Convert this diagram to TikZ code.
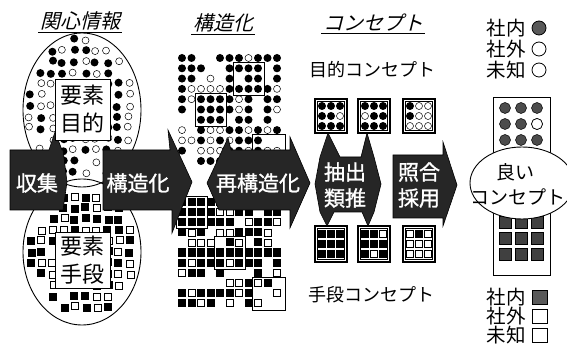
\documentclass[tikz,border=0pt]{standalone}
\usepackage{fontspec}
\newfontfamily\jp{Noto Sans CJK JP}
\newfontfamily\jpb[FakeBold=1.2]{Noto Sans CJK JP}
\newfontfamily\jpit[FakeSlant=0.25]{Noto Sans CJK JP}
\tikzset{
 arrowshape/.style={fill=black!85, draw=black, line width=0.6pt},
 arrowtext/.style={text=white, font=\jpb\fontsize{21}{26}\selectfont, align=center, inner sep=0pt},
 titletext/.style={font=\jpit\fontsize{20}{20}\selectfont, inner sep=1.5pt},
 lbl/.style={font=\jp\fontsize{18}{20}\selectfont, inner sep=0pt},
 legtext/.style={font=\jp\fontsize{19.5}{20}\selectfont, inner sep=0pt},
 elembox/.style={draw, fill=white, line width=0.8pt, align=center, inner sep=0pt, font=\jp\fontsize{22}{28}\selectfont},
 doto/.style={draw=black, fill=white, line width=0.5pt},
 gbox/.style={draw, line width=0.8pt},
}
\newcommand\circcell[3]{\ifcase#3\relax\or\fill (#1,#2) circle (4);\or\draw[doto] (#1,#2) circle (3.5);\fi}
\newcommand\sqcell[3]{\ifcase#3\relax\or\fill (#1-4,#2-4) rectangle (#1+4,#2+4);\or\draw[doto] (#1-3.5,#2-3.5) rectangle (#1+3.5,#2+3.5);\fi}
\newcommand\cellgrid[6]{%
  \foreach \c [count=\k from 0] in {#6}{%
    \pgfmathsetmacro{\px}{#2+#4*mod(\k,3)}%
    \pgfmathsetmacro{\py}{#3+#5*floor(\k/3)}%
    #1{\px}{\py}{\c}}}
\newcommand\cframe[3]{%
  \draw[line width=1.1pt, fill=white] (#1,#2) rectangle ++(32,#3);
  \draw[line width=0.5pt] (#1+2.5,#2+2.5) rectangle ++(27,#3-5);}
\begin{document}
\begin{tikzpicture}[x=1pt,y=-1pt]
\useasboundingbox (0,0) rectangle (567,347);
\fill[white] (0,0) rectangle (567,347);
\pgfmathsetseed{4242}
% ---------- left ellipses ----------
\fill[white] (82,252) ellipse [x radius=59, y radius=73];
\fill[white] (82,110) ellipse [x radius=59, y radius=77];
\foreach \x in {30,41,...,140}{\foreach \y in {40,51,...,190}{%
  \pgfmathsetmacro{\d}{((\x-82)/54)^2+((\y-110)/72)^2}%
  \pgfmathrandominteger{\r}{0}{9}%
  \pgfmathsetmacro{\px}{\x+3*rnd-1.5}\pgfmathsetmacro{\py}{\y+3*rnd-1.5}%
  \ifdim\d pt<1pt \ifnum\r<5 \circcell{\px}{\py}{1}\else\ifnum\r<9 \circcell{\px}{\py}{2}\fi\fi\fi}}
\foreach \x in {31,42,...,140}{\foreach \y in {186,197,...,325}{%
  \pgfmathsetmacro{\d}{((\x-82)/52)^2+((\y-252)/66)^2}%
  \pgfmathrandominteger{\r}{0}{9}%
  \pgfmathsetmacro{\px}{\x+2*rnd-1}\pgfmathsetmacro{\py}{\y+2*rnd-1}%
  \ifdim\d pt<1pt \ifnum\r<5 \sqcell{\px}{\py}{1}\else\ifnum\r<9 \sqcell{\px}{\py}{2}\fi\fi\fi}}
\draw[line width=0.9pt] (82,110) ellipse [x radius=59, y radius=77];
\draw[line width=0.9pt] (82,252) ellipse [x radius=59, y radius=73];
% ---------- structure matrices ----------
\foreach \i in {0,...,10}{\foreach \j in {0,...,10}{%
  \pgfmathrandominteger{\r}{0}{9}%
  \pgfmathsetmacro{\px}{182+9.5*\i}\pgfmathsetmacro{\py}{58+10.3*\j}%
  \ifnum\r<6 \circcell{\px}{\py}{1}\else\ifnum\r<8 \circcell{\px}{\py}{2}\fi\fi}}
\foreach \i in {0,...,10}{\foreach \j in {0,...,10}{%
  \pgfmathrandominteger{\r}{0}{9}%
  \pgfmathsetmacro{\px}{182+9.5*\i}\pgfmathsetmacro{\py}{202+10.1*\j}%
  \ifnum\r<6 \sqcell{\px}{\py}{1}\else\ifnum\r<8 \sqcell{\px}{\py}{2}\fi\fi}}
% boxes in top matrix
\draw[gbox, fill=white] (195,93) rectangle (226,126);
\cellgrid{\circcell}{201}{99.2}{9.5}{10.3}{1,1,1,1,1,1,1,1,1}
\draw[gbox, fill=white] (233,62) rectangle (264,95);
\cellgrid{\circcell}{239}{68.3}{9.5}{10.3}{1,1,1,0,1,1,1,1,1}
\draw[gbox, fill=white] (252,134) rectangle (285,167);
\cellgrid{\circcell}{258}{140.4}{9.5}{10.3}{1,0,0,1,2,2,0,0,0}
% boxes in bottom matrix
\draw[gbox, fill=white] (176,196) rectangle (207,228);
\cellgrid{\sqcell}{182}{202}{9.5}{10.1}{1,1,1,1,1,1,1,1,1}
\draw[gbox, fill=white] (214,236) rectangle (245,269);
\cellgrid{\sqcell}{220}{242.4}{9.5}{10.1}{0,1,2,1,1,1,1,2,1}
\draw[gbox, fill=white] (252,277) rectangle (285,310);
\cellgrid{\sqcell}{258}{282.8}{9.5}{10.1}{2,1,0,0,0,2,2,0,0}
% ---------- concept grids ----------
\cframe{315}{99}{34}
\cellgrid{\circcell}{322}{106}{9}{10}{1,1,1,1,1,2,1,1,1}
\cframe{358}{99}{34}
\cellgrid{\circcell}{365}{106}{9}{10}{1,1,1,2,1,1,1,1,1}
\cframe{403}{99}{34}
\cellgrid{\circcell}{410}{106}{9}{10}{1,2,2,1,2,2,2,2,2}
\cframe{315}{226}{36}
\cellgrid{\sqcell}{322}{234}{9}{10}{1,1,1,1,1,1,1,1,1}
\cframe{358}{226}{36}
\cellgrid{\sqcell}{365}{234}{9}{10}{1,1,2,1,1,1,1,2,1}
\cframe{403}{226}{36}
\cellgrid{\sqcell}{410}{234}{9}{10}{2,1,2,2,2,2,2,2,2}
% ---------- arrows ----------
\fill[arrowshape] (10,150) -- (49,150) -- (55,132) -- (62,150) -- (63,150) -- (67,182) -- (63,210) -- (10,210) -- cycle;
\fill[arrowshape] (103,150) -- (170,150) -- (168,130) -- (192,182) -- (172,233) -- (172,210) -- (103,210) -- cycle;
\fill[arrowshape] (207,183) -- (228,138) -- (231,150) -- (290,150) -- (290,137) -- (310,183) -- (290,228) -- (290,210) -- (219,210) -- cycle;
\fill[arrowshape] (328,133) -- (340,157) -- (361,157) -- (367,133) -- (374,157) -- (381,184) -- (374,212) -- (368,226) -- (362,212) -- (334,212) -- (327,226) -- (320,212) -- (315,184) -- (320,157) -- cycle;
\fill[arrowshape] (393,155) -- (443,155) -- (443,142) -- (457,185) -- (443,226) -- (443,218) -- (393,218) -- cycle;
\node[arrowtext] (a1) at (37,183) {収集};
\node[arrowtext] (a2) at (138,183) {構造化};
\node[arrowtext] (a3) at (258,183) {再構造化};
\node[arrowtext] (a4) at (345,185) {抽出\\類推};
\node[arrowtext] (a5) at (419,185) {照合\\採用};
% ---------- element boxes ----------
\node[elembox, minimum width=55pt, minimum height=61pt] (e1) at (82.5,109.5) {要素\\目的};
\node[elembox, minimum width=55pt, minimum height=56pt] (e2) at (82.5,260) {要素\\手段};
% ---------- titles ----------
\node[titletext] (t1) at (80,21) {関心情報};
\node[titletext] (t2) at (223,23) {構造化};
\node[titletext] (t3) at (373,23) {コンセプト};
\foreach \t in {t1,t2,t3}{\draw[line width=0.6pt] (\t.south west) -- (\t.south east);}
\node[lbl] (l1) at (372,70) {目的コンセプト};
\node[lbl] (l2) at (371,295) {手段コンセプト};
% ---------- right column ----------
\draw[line width=1pt, fill=white] (493,98) rectangle (550,275);
\foreach \cx in {505,521,537}{\foreach \cy in {108,124,140}{%
  \draw[fill=black!70, line width=0.5pt] (\cx,\cy) circle (5.5);}}
\draw[doto, line width=0.7pt] (537,124) circle (5.5);
\foreach \cx in {505,521,537}{\foreach \cy in {222,238,254}{%
  \draw[fill=black!75, line width=0.5pt] (\cx-6,\cy-6) rectangle (\cx+6,\cy+6);}}
\draw[fill=white, line width=0.9pt] (522,183) ellipse [x radius=52, y radius=36];
\node[lbl, font=\jp\fontsize{19}{20}\selectfont] (g1) at (515,172) {良い};
\node[lbl, font=\jp\fontsize{19}{20}\selectfont] (g2) at (518,197) {コンセプト};
% legends
\node[legtext] (k1) at (506,28) {社内};
\node[legtext] (k2) at (506,49) {社外};
\node[legtext] (k3) at (506,70) {未知};
\draw[fill=black!65, line width=0.8pt] (539,28) circle (7);
\draw[doto, line width=0.8pt] (539,49) circle (7);
\draw[doto, line width=0.8pt] (539,70) circle (7);
\node[legtext] (k4) at (506,297) {社内};
\node[legtext] (k5) at (506,316) {社外};
\node[legtext] (k6) at (506,335) {未知};
\draw[fill=black!65, line width=0.8pt] (532,290) rectangle (547,304);
\draw[doto, line width=0.8pt] (532,309) rectangle (547,323);
\draw[doto, line width=0.8pt] (532,328) rectangle (547,342);
\end{tikzpicture}
\end{document}
